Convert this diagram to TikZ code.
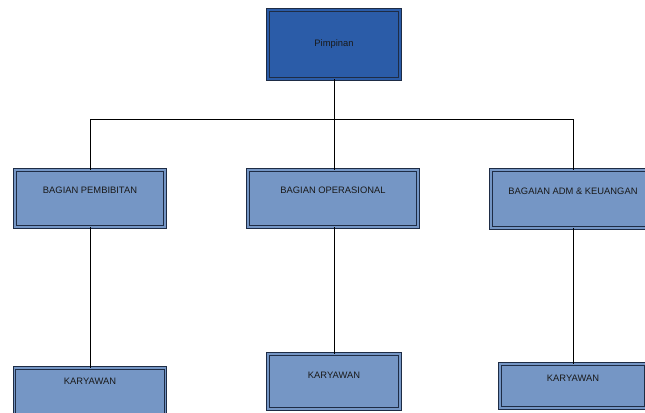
\documentclass[tikz,border=0pt]{standalone}
\usepackage{fontspec}
\setmainfont{Liberation Sans}
\usepackage{tikz}
\usetikzlibrary{positioning}

\definecolor{headblue}{HTML}{2B5CA8}
\definecolor{unitblue}{HTML}{7596C5}
\definecolor{edgeblue}{HTML}{1E2C45}

\tikzset{
  box/.style={draw=edgeblue, line width=0.9bp, double=#1, double distance=1.8bp, fill=#1, inner sep=0pt},
  txt/.style={font=\fontsize{9.4}{11}\selectfont, text=black!90, anchor=center},
  link/.style={draw=black, line width=1bp}
}

\begin{document}
\begin{tikzpicture}[x=1bp, y=-1bp]
    \useasboundingbox (0,0) rectangle (645,412);
    \clip (0,0) rectangle (645,412);

    % top
    \node[box=headblue, minimum width=132bp, minimum height=69bp, txt] (pimpinan) at (334,44.5) {Pimpinan};

    % bagian
    \node[box=unitblue, minimum width=150bp, minimum height=57bp,
          label={[txt, name=tpembibitan, yshift=-21bp]north:BAGIAN PEMBIBITAN}] (pembibitan) at (90,198.5) {};
    \node[box=unitblue, minimum width=170bp, minimum height=57bp,
          label={[txt, name=toperasional, yshift=-21bp]north:BAGIAN OPERASIONAL}] (operasional) at (333,198.5) {};
    \node[box=unitblue, minimum width=164bp, minimum height=58bp,
          label={[txt, name=tadm, yshift=-22bp]north:BAGAIAN ADM \& KEUANGAN}] (adm) at (573,199) {};

    % karyawan
    \node[box=unitblue, minimum width=151bp, minimum height=56bp,
          label={[txt, name=tkary1, yshift=-14bp]north:KARYAWAN}] (kary1) at (90,396) {};
    \node[box=unitblue, minimum width=132bp, minimum height=55bp,
          label={[txt, name=tkary2, yshift=-22bp]north:KARYAWAN}] (kary2) at (334,381.5) {};
    \node[box=unitblue, minimum width=146bp, minimum height=44bp,
          label={[txt, name=tkary3, yshift=-15bp]north:KARYAWAN}] (kary3) at (573,386) {};

    % lines
    \coordinate (bus) at (334,119);
    \draw[link] (pimpinan.south) -- (bus);
    \draw[link] (bus -| pembibitan.north) -- (bus -| adm.north);
    \draw[link] (bus -| pembibitan.north) -- (pembibitan.north);
    \draw[link] (bus -| adm.north) -- (adm.north);
    \draw[link] (bus) -- (operasional.north -| bus);
    \draw[link] (pembibitan.south) -- (kary1.north);
    \draw[link] (operasional.south -| kary2.north) -- (kary2.north);
    \draw[link] (adm.south) -- (kary3.north);

\end{tikzpicture}
\end{document}
